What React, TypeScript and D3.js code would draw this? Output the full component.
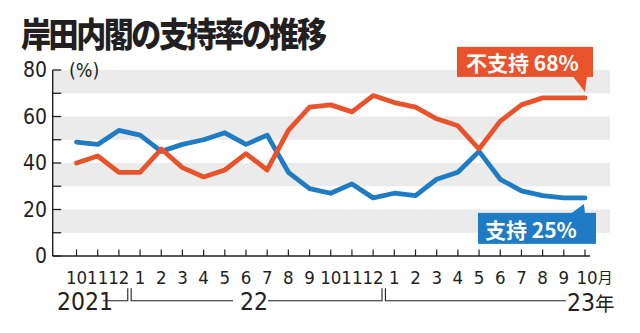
import React from "react";
import * as d3 from "d3";

const months = ["10","11","12","1","2","3","4","5","6","7","8","9","10","11","12","1","2","3","4","5","6","7","8","9","10"];
const supportValues = [49,48,54,52,45,48,50,53,48,52,36,29,27,31,25,27,26,33,36,45,33,28,26,25,25];
const nonSupportValues = [40,43,36,36,46,38,34,37,44,37,54,64,65,62,69,66,64,59,56,46,58,65,68,68,68];
const yTicks = [0,20,40,60,80];
const yMinorTicks = [0,10,20,30,40,50,60,70,80];
const bands = [[10,20],[30,40],[50,60],[70,80]];
const title = "岸田内閣の支持率の推移";
const supportLabel = "支持 25%";
const nonSupportLabel = "不支持 68%";

const W = 640, H = 333;
const ORANGE = "#e8532b";
const BLUE = "#1f7bc4";
const INK = "#231f20";
const NARROW = "'Liberation Sans Narrow', 'DejaVu Sans Condensed', 'Noto Sans', sans-serif";
const CJK = "'Noto Sans CJK JP', 'Noto Sans', sans-serif";

export default function App() {
  const x = d3.scaleLinear().domain([0, months.length - 1]).range([76.5, 585]);
  const y = d3.scaleLinear().domain([0, 80]).range([256, 70]);
  const axisX = 52.7;
  const bandRight = 610;
  const line = d3.line<number>().x((_, i) => x(i)).y((d) => y(d));
  const last = months.length - 1;
  const ex = x(last);
  const eyO = y(nonSupportValues[last]);
  const eyB = y(supportValues[last]);
  const yearLineY = 300.7;
  const b1 = x(2.5), b2 = x(14.5);

  return (
    <svg width={W} height={H} viewBox={`0 0 ${W} ${H}`} style={{ position: "absolute", left: 0, top: 0, background: "#fff" }}>
      <rect x={0} y={0} width={W} height={H} fill="#fff" />
      <g transform="translate(21,47) scale(1,1.13)">
        <text x={0} y={0} fontFamily={CJK} fontWeight={900} fontSize={30} letterSpacing={-2.4} fill={INK}>{title}</text>
      </g>
      {bands.map(([a, b]) => (
        <rect key={a} x={axisX} y={y(b)} width={bandRight - axisX} height={y(a) - y(b)} fill="#ebebeb" />
      ))}
      {/* y axis */}
      <line x1={axisX} x2={axisX} y1={y(0)} y2={y(80)} stroke={INK} strokeWidth={1.4} />
      {yMinorTicks.map((t) => (
        <line key={t} x1={axisX} x2={axisX + 8.5} y1={y(t)} y2={y(t)} stroke={INK} strokeWidth={1.3} />
      ))}
      {yTicks.map((t) => (
        <text key={t} x={47} y={y(t) + 7.3} textAnchor="end" fontFamily={NARROW} fontSize={21} fill={INK}>{t}</text>
      ))}
      <text x={69} y={77} fontFamily={NARROW} fontSize={19.5} fill={INK}>(%)</text>
      {/* x axis */}
      <line x1={axisX} x2={590} y1={y(0)} y2={y(0)} stroke={INK} strokeWidth={1.4} />
      {months.map((m, i) => (
        <line key={"t" + i} x1={x(i)} x2={x(i)} y1={y(0)} y2={y(0) - 6.5} stroke={INK} strokeWidth={1.2} />
      ))}
      {months.slice(0, last).map((m, i) => (
        <text key={"m" + i} x={x(i)} y={283.5} textAnchor="middle" fontFamily={NARROW} fontSize={18.5} fill={INK}>{m}</text>
      ))}
      <text x={x(last) - 8.5} y={283.5} fontFamily={NARROW} fontSize={18.5} fill={INK}>
        {months[last]}
        <tspan fontFamily={CJK} fontSize={15} dy={-0.5}>月</tspan>
      </text>
      {/* year brackets */}
      <g stroke={INK} strokeWidth={1.1} fill="none">
        <path d={`M103,${yearLineY}H${b1 - 1.7}V${yearLineY - 12.5}`} />
        <path d={`M${b1 + 1.7},${yearLineY - 12.5}V${yearLineY}H233`} />
        <path d={`M268,${yearLineY}H${b2 - 1.7}V${yearLineY - 12.5}`} />
        <path d={`M${b2 + 1.7},${yearLineY - 12.5}V${yearLineY}H566`} />
      </g>
      <text x={57} y={310} fontFamily={NARROW} fontSize={24.5} fill={INK}>2021</text>
      <text x={240} y={310} fontFamily={NARROW} fontSize={24.5} fill={INK}>22</text>
      <text x={567} y={310.5} fontFamily={NARROW} fontSize={24.5} fill={INK}>
        23
        <tspan fontFamily={CJK} fontSize={19.5}>年</tspan>
      </text>
      {/* lines */}
      <path d={line(supportValues) || ""} fill="none" stroke={BLUE} strokeWidth={4.8} strokeLinejoin="round" strokeLinecap="round" />
      <path d={line(nonSupportValues) || ""} fill="none" stroke={ORANGE} strokeWidth={4.8} strokeLinejoin="round" strokeLinecap="round" />
      {/* labels */}
      <rect x={ex - 128} y={eyO - 51} width={136} height={30} fill={ORANGE} />
      <path d={`M${ex - 12},${eyO - 21.5}L${ex + 2},${eyO - 21.5}L${ex},${eyO - 6}Z`} fill={ORANGE} />
      <text x={ex - 119} y={eyO - 27} fontFamily={CJK} fontWeight={700} fontSize={21} fill="#fff">{nonSupportLabel}</text>
      <rect x={ex - 107} y={eyB + 15} width={118} height={31} fill={BLUE} />
      <path d={`M${ex - 14},${eyB + 15.5}L${ex},${eyB + 15.5}L${ex - 1},${eyB + 6}Z`} fill={BLUE} />
      <text x={ex - 100} y={eyB + 40} fontFamily={CJK} fontWeight={700} fontSize={21} fill="#fff">{supportLabel}</text>
    </svg>
  );
}
